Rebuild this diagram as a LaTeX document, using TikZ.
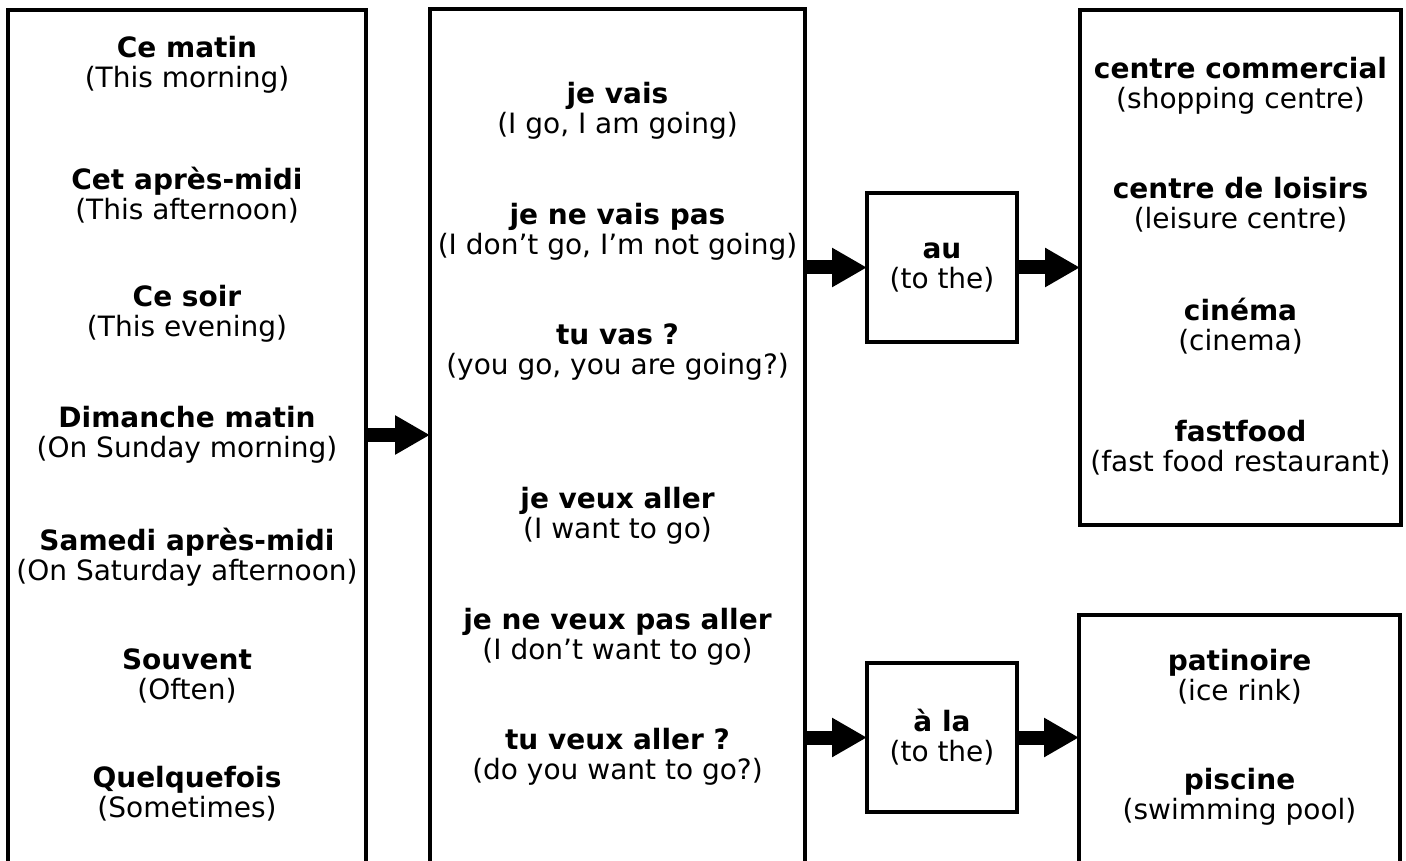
\documentclass[tikz,border=0pt]{standalone}
\usepackage{fontspec}
\setmainfont{DejaVu Sans}
\usetikzlibrary{arrows.meta}
\begin{document}
\begin{tikzpicture}[x=1pt, y=-1pt,
        column/.style={draw, line width=3.5pt, outer sep=0pt, inner sep=0pt},
        entry/.style={align=center, inner sep=0pt, font=\fontsize{28}{30}\selectfont},
        bigarrow/.style={line width=14pt, -{Triangle[length=35pt, width=37pt]}}]
    \useasboundingbox (0,0) rectangle (1406,861);
    \clip (0,0) rectangle (1406,861);

    % columns (the tall ones run off the bottom edge)
    \node[column, minimum width=358pt, minimum height=890pt] (lbox) at (187,455) {};
    \node[column, minimum width=375pt, minimum height=891pt] (mbox) at (617.5,454.5) {};
    \node[column, minimum width=150pt, minimum height=149pt] (au) at (942,267.5) {};
    \node[column, minimum width=150pt, minimum height=149pt] (ala) at (942,737.5) {};
    \node[column, minimum width=321pt, minimum height=515pt] (rtop) at (1240.5,267.5) {};
    \node[column, minimum width=321pt, minimum height=285pt] (rbot) at (1239.5,757.5) {};

    % when
    \node[entry] (cematin) at (187,65) {\textbf{Ce matin}\\(This morning)};
    \node[entry] (aprem) at (187,195) {\textbf{Cet après-midi}\\(This afternoon)};
    \node[entry] (soir) at (187,314) {\textbf{Ce soir}\\(This evening)};
    \node[entry] (dimanche) at (187,435) {\textbf{Dimanche matin}\\(On Sunday morning)};
    \node[entry] (samedi) at (187,557) {\textbf{Samedi après-midi}\\(On Saturday afternoon)};
    \node[entry] (souvent) at (187,676) {\textbf{Souvent}\\(Often)};
    \node[entry] (quelquefois) at (187,794) {\textbf{Quelquefois}\\(Sometimes)};

    % verbs
    \node[entry] (vais) at (617.5,111) {\textbf{je vais}\\(I go, I am going)};
    \node[entry] (nevais) at (617.5,232) {\textbf{je ne vais pas}\\(I don’t go, I’m not going)};
    \node[entry] (vas) at (617.5,352) {\textbf{tu vas ?}\\(you go, you are going?)};
    \node[entry] (veux) at (617.5,516) {\textbf{je veux aller}\\(I want to go)};
    \node[entry] (neveux) at (617.5,637) {\textbf{je ne veux pas aller}\\(I don’t want to go)};
    \node[entry] (tuveux) at (617.5,757) {\textbf{tu veux aller ?}\\(do you want to go?)};

    \node[entry] at (au) {\textbf{au}\\(to the)};
    \node[entry] at (ala) {\textbf{à la}\\(to the)};

    % places
    \node[entry] (commercial) at (1240.5,86) {\textbf{centre commercial}\\(shopping centre)};
    \node[entry] (loisirs) at (1240.5,205) {\textbf{centre de loisirs}\\(leisure centre)};
    \node[entry] (cinema) at (1240.5,326) {\textbf{cinéma}\\(cinema)};
    \node[entry] (fastfood) at (1240.5,448) {\textbf{fastfood}\\(fast food restaurant)};
    \node[entry] (patinoire) at (1239.5,677) {\textbf{patinoire}\\(ice rink)};
    \node[entry] (piscine) at (1239.5,797) {\textbf{piscine}\\(swimming pool)};

    \draw[bigarrow] (lbox.east |- dimanche) -- (mbox.west |- dimanche);
    \draw[bigarrow] (mbox.east |- au) -- (au.west);
    \draw[bigarrow] (au.east) -- (rtop.west |- au.east);
    \draw[bigarrow] (mbox.east |- ala) -- (ala.west);
    \draw[bigarrow] (ala.east) -- (rbot.west |- ala.east);
\end{tikzpicture}
\end{document}
